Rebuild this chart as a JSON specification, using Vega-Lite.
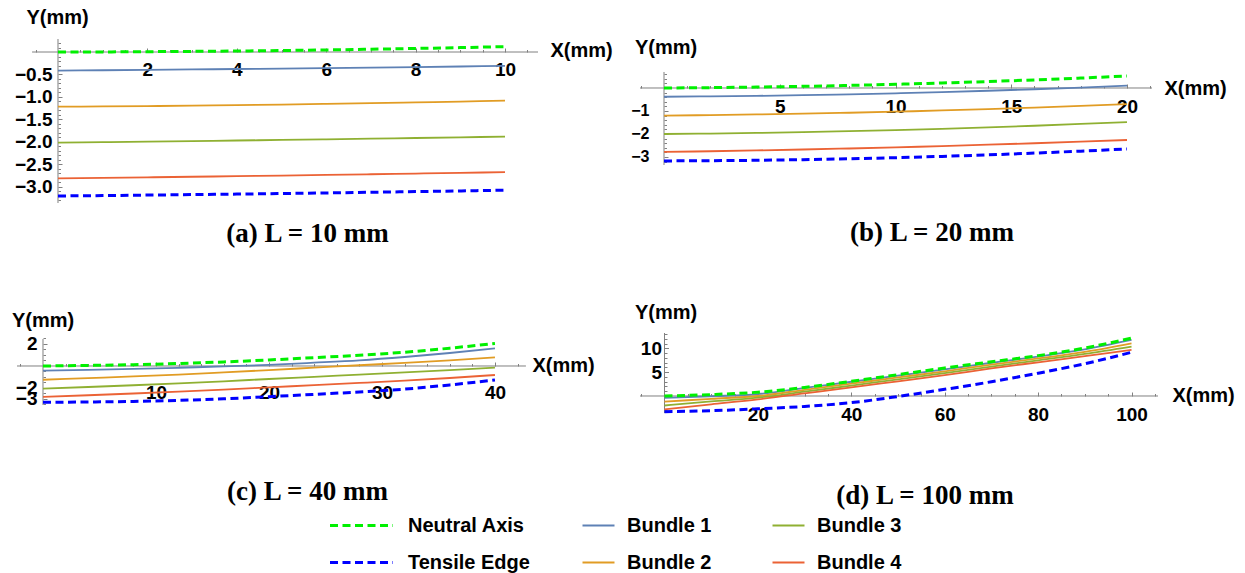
{
  "$schema": "https://vega.github.io/schema/vega-lite/v6.json",
  "padding": {"left": 11, "top": 7, "right": 0, "bottom": 0},
  "autosize": {"type": "pad"},
  "background": "white",
  "config": {
    "view": {"stroke": null},
    "axis": {"labelFont": "Liberation Sans", "labelFontWeight": "bold", "labelFontSize": 19, "labelColor": "#000000", "titleFont": "Liberation Sans", "titleFontWeight": "bold", "titleFontSize": 20, "titleColor": "#000000", "tickColor": "#808080", "domain": false, "grid": false, "labelFlush": false, "labelOverlap": false},
    "title": {"font": "Liberation Serif", "fontSize": 27, "fontWeight": "bold", "color": "#000000", "orient": "bottom", "anchor": "middle"},
    "legend": {"orient": "none", "legendX": 345, "legendY": 476.5, "columns": 3, "columnPadding": 48, "rowPadding": 17, "labelFont": "Liberation Sans", "labelFontSize": 20, "labelFontWeight": "bold", "labelColor": "#000000", "symbolSize": 1024, "symbolStrokeWidth": 2.2, "labelOffset": 26, "padding": 0, "gridAlign": "each", "labelLimit": 300}
  },
  "datasets": {
    "a": [
      {"s":"Neutral Axis","x":0,"y":0},{"s":"Neutral Axis","x":1,"y":0.002},{"s":"Neutral Axis","x":2,"y":0.007},{"s":"Neutral Axis","x":3,"y":0.014},{"s":"Neutral Axis","x":4,"y":0.022},{"s":"Neutral Axis","x":5,"y":0.033},{"s":"Neutral Axis","x":6,"y":0.046},{"s":"Neutral Axis","x":7,"y":0.062},{"s":"Neutral Axis","x":8,"y":0.079},{"s":"Neutral Axis","x":9,"y":0.098},{"s":"Neutral Axis","x":10,"y":0.12},
      {"s":"Bundle 1","x":0,"y":-0.415},{"s":"Bundle 1","x":1,"y":-0.406},{"s":"Bundle 1","x":2,"y":-0.397},{"s":"Bundle 1","x":3,"y":-0.388},{"s":"Bundle 1","x":4,"y":-0.378},{"s":"Bundle 1","x":5,"y":-0.368},{"s":"Bundle 1","x":6,"y":-0.357},{"s":"Bundle 1","x":7,"y":-0.346},{"s":"Bundle 1","x":8,"y":-0.334},{"s":"Bundle 1","x":9,"y":-0.322},{"s":"Bundle 1","x":10,"y":-0.31},
      {"s":"Bundle 2","x":0,"y":-1.215},{"s":"Bundle 2","x":1,"y":-1.209},{"s":"Bundle 2","x":2,"y":-1.202},{"s":"Bundle 2","x":3,"y":-1.192},{"s":"Bundle 2","x":4,"y":-1.181},{"s":"Bundle 2","x":5,"y":-1.169},{"s":"Bundle 2","x":6,"y":-1.154},{"s":"Bundle 2","x":7,"y":-1.138},{"s":"Bundle 2","x":8,"y":-1.121},{"s":"Bundle 2","x":9,"y":-1.101},{"s":"Bundle 2","x":10,"y":-1.08},
      {"s":"Bundle 3","x":0,"y":-2.015},{"s":"Bundle 3","x":1,"y":-2.004},{"s":"Bundle 3","x":2,"y":-1.992},{"s":"Bundle 3","x":3,"y":-1.98},{"s":"Bundle 3","x":4,"y":-1.967},{"s":"Bundle 3","x":5,"y":-1.954},{"s":"Bundle 3","x":6,"y":-1.94},{"s":"Bundle 3","x":7,"y":-1.926},{"s":"Bundle 3","x":8,"y":-1.911},{"s":"Bundle 3","x":9,"y":-1.896},{"s":"Bundle 3","x":10,"y":-1.88},
      {"s":"Bundle 4","x":0,"y":-2.81},{"s":"Bundle 4","x":1,"y":-2.798},{"s":"Bundle 4","x":2,"y":-2.786},{"s":"Bundle 4","x":3,"y":-2.773},{"s":"Bundle 4","x":4,"y":-2.76},{"s":"Bundle 4","x":5,"y":-2.746},{"s":"Bundle 4","x":6,"y":-2.732},{"s":"Bundle 4","x":7,"y":-2.717},{"s":"Bundle 4","x":8,"y":-2.702},{"s":"Bundle 4","x":9,"y":-2.686},{"s":"Bundle 4","x":10,"y":-2.67},
      {"s":"Tensile Edge","x":0,"y":-3.2},{"s":"Tensile Edge","x":1,"y":-3.191},{"s":"Tensile Edge","x":2,"y":-3.18},{"s":"Tensile Edge","x":3,"y":-3.169},{"s":"Tensile Edge","x":4,"y":-3.158},{"s":"Tensile Edge","x":5,"y":-3.145},{"s":"Tensile Edge","x":6,"y":-3.132},{"s":"Tensile Edge","x":7,"y":-3.117},{"s":"Tensile Edge","x":8,"y":-3.102},{"s":"Tensile Edge","x":9,"y":-3.087},{"s":"Tensile Edge","x":10,"y":-3.07}
    ],
    "b": [
      {"s":"Neutral Axis","x":0,"y":0},{"s":"Neutral Axis","x":2,"y":0.016},{"s":"Neutral Axis","x":4,"y":0.04},{"s":"Neutral Axis","x":6,"y":0.072},{"s":"Neutral Axis","x":8,"y":0.112},{"s":"Neutral Axis","x":10,"y":0.16},{"s":"Neutral Axis","x":12,"y":0.216},{"s":"Neutral Axis","x":14,"y":0.28},{"s":"Neutral Axis","x":16,"y":0.352},{"s":"Neutral Axis","x":18,"y":0.432},{"s":"Neutral Axis","x":20,"y":0.52},
      {"s":"Bundle 1","x":0,"y":-0.38},{"s":"Bundle 1","x":2,"y":-0.364},{"s":"Bundle 1","x":4,"y":-0.342},{"s":"Bundle 1","x":6,"y":-0.312},{"s":"Bundle 1","x":8,"y":-0.274},{"s":"Bundle 1","x":10,"y":-0.23},{"s":"Bundle 1","x":12,"y":-0.178},{"s":"Bundle 1","x":14,"y":-0.12},{"s":"Bundle 1","x":16,"y":-0.054},{"s":"Bundle 1","x":18,"y":0.02},{"s":"Bundle 1","x":20,"y":0.1},
      {"s":"Bundle 2","x":0,"y":-1.2},{"s":"Bundle 2","x":2,"y":-1.179},{"s":"Bundle 2","x":4,"y":-1.151},{"s":"Bundle 2","x":6,"y":-1.117},{"s":"Bundle 2","x":8,"y":-1.077},{"s":"Bundle 2","x":10,"y":-1.03},{"s":"Bundle 2","x":12,"y":-0.977},{"s":"Bundle 2","x":14,"y":-0.917},{"s":"Bundle 2","x":16,"y":-0.851},{"s":"Bundle 2","x":18,"y":-0.779},{"s":"Bundle 2","x":20,"y":-0.7},
      {"s":"Bundle 3","x":0,"y":-2.0},{"s":"Bundle 3","x":2,"y":-1.98},{"s":"Bundle 3","x":4,"y":-1.954},{"s":"Bundle 3","x":6,"y":-1.92},{"s":"Bundle 3","x":8,"y":-1.878},{"s":"Bundle 3","x":10,"y":-1.83},{"s":"Bundle 3","x":12,"y":-1.774},{"s":"Bundle 3","x":14,"y":-1.712},{"s":"Bundle 3","x":16,"y":-1.642},{"s":"Bundle 3","x":18,"y":-1.564},{"s":"Bundle 3","x":20,"y":-1.48},
      {"s":"Bundle 4","x":0,"y":-2.78},{"s":"Bundle 4","x":2,"y":-2.75},{"s":"Bundle 4","x":4,"y":-2.714},{"s":"Bundle 4","x":6,"y":-2.674},{"s":"Bundle 4","x":8,"y":-2.63},{"s":"Bundle 4","x":10,"y":-2.58},{"s":"Bundle 4","x":12,"y":-2.526},{"s":"Bundle 4","x":14,"y":-2.466},{"s":"Bundle 4","x":16,"y":-2.402},{"s":"Bundle 4","x":18,"y":-2.334},{"s":"Bundle 4","x":20,"y":-2.26},
      {"s":"Tensile Edge","x":0,"y":-3.17},{"s":"Tensile Edge","x":2,"y":-3.161},{"s":"Tensile Edge","x":4,"y":-3.143},{"s":"Tensile Edge","x":6,"y":-3.115},{"s":"Tensile Edge","x":8,"y":-3.077},{"s":"Tensile Edge","x":10,"y":-3.03},{"s":"Tensile Edge","x":12,"y":-2.973},{"s":"Tensile Edge","x":14,"y":-2.907},{"s":"Tensile Edge","x":16,"y":-2.831},{"s":"Tensile Edge","x":18,"y":-2.745},{"s":"Tensile Edge","x":20,"y":-2.65}
    ],
    "c": [
      {"s":"Neutral Axis","x":0,"y":0},{"s":"Neutral Axis","x":4,"y":0.05},{"s":"Neutral Axis","x":8,"y":0.12},{"s":"Neutral Axis","x":12,"y":0.23},{"s":"Neutral Axis","x":16,"y":0.37},{"s":"Neutral Axis","x":20,"y":0.55},{"s":"Neutral Axis","x":24,"y":0.76},{"s":"Neutral Axis","x":28,"y":0.98},{"s":"Neutral Axis","x":32,"y":1.25},{"s":"Neutral Axis","x":36,"y":1.62},{"s":"Neutral Axis","x":40,"y":2.05},
      {"s":"Bundle 1","x":0,"y":-0.42},{"s":"Bundle 1","x":4,"y":-0.36},{"s":"Bundle 1","x":8,"y":-0.27},{"s":"Bundle 1","x":12,"y":-0.16},{"s":"Bundle 1","x":16,"y":-0.04},{"s":"Bundle 1","x":20,"y":0.1},{"s":"Bundle 1","x":24,"y":0.3},{"s":"Bundle 1","x":28,"y":0.52},{"s":"Bundle 1","x":32,"y":0.82},{"s":"Bundle 1","x":36,"y":1.18},{"s":"Bundle 1","x":40,"y":1.6},
      {"s":"Bundle 2","x":0,"y":-1.25},{"s":"Bundle 2","x":4,"y":-1.1},{"s":"Bundle 2","x":8,"y":-0.95},{"s":"Bundle 2","x":12,"y":-0.78},{"s":"Bundle 2","x":16,"y":-0.58},{"s":"Bundle 2","x":20,"y":-0.37},{"s":"Bundle 2","x":24,"y":-0.15},{"s":"Bundle 2","x":28,"y":0.07},{"s":"Bundle 2","x":32,"y":0.28},{"s":"Bundle 2","x":36,"y":0.52},{"s":"Bundle 2","x":40,"y":0.79},
      {"s":"Bundle 3","x":0,"y":-2.05},{"s":"Bundle 3","x":4,"y":-1.91},{"s":"Bundle 3","x":8,"y":-1.75},{"s":"Bundle 3","x":12,"y":-1.58},{"s":"Bundle 3","x":16,"y":-1.39},{"s":"Bundle 3","x":20,"y":-1.18},{"s":"Bundle 3","x":24,"y":-0.98},{"s":"Bundle 3","x":28,"y":-0.78},{"s":"Bundle 3","x":32,"y":-0.58},{"s":"Bundle 3","x":36,"y":-0.37},{"s":"Bundle 3","x":40,"y":-0.15},
      {"s":"Bundle 4","x":0,"y":-2.8},{"s":"Bundle 4","x":4,"y":-2.66},{"s":"Bundle 4","x":8,"y":-2.5},{"s":"Bundle 4","x":12,"y":-2.33},{"s":"Bundle 4","x":16,"y":-2.14},{"s":"Bundle 4","x":20,"y":-1.94},{"s":"Bundle 4","x":24,"y":-1.74},{"s":"Bundle 4","x":28,"y":-1.54},{"s":"Bundle 4","x":32,"y":-1.33},{"s":"Bundle 4","x":36,"y":-1.09},{"s":"Bundle 4","x":40,"y":-0.82},
      {"s":"Tensile Edge","x":0,"y":-3.3},{"s":"Tensile Edge","x":4,"y":-3.27},{"s":"Tensile Edge","x":8,"y":-3.22},{"s":"Tensile Edge","x":12,"y":-3.13},{"s":"Tensile Edge","x":16,"y":-2.98},{"s":"Tensile Edge","x":20,"y":-2.79},{"s":"Tensile Edge","x":24,"y":-2.58},{"s":"Tensile Edge","x":28,"y":-2.36},{"s":"Tensile Edge","x":32,"y":-2.1},{"s":"Tensile Edge","x":36,"y":-1.72},{"s":"Tensile Edge","x":40,"y":-1.27}
    ],
    "d": [
      {"s":"Neutral Axis","x":0,"y":0},{"s":"Neutral Axis","x":10,"y":0.3},{"s":"Neutral Axis","x":20,"y":0.8},{"s":"Neutral Axis","x":30,"y":1.8},{"s":"Neutral Axis","x":40,"y":3.1},{"s":"Neutral Axis","x":50,"y":4.5},{"s":"Neutral Axis","x":60,"y":5.9},{"s":"Neutral Axis","x":70,"y":7.2},{"s":"Neutral Axis","x":80,"y":8.5},{"s":"Neutral Axis","x":90,"y":10.1},{"s":"Neutral Axis","x":100,"y":12.2},
      {"s":"Bundle 1","x":0,"y":-0.4},{"s":"Bundle 1","x":10,"y":-0.05},{"s":"Bundle 1","x":20,"y":0.4},{"s":"Bundle 1","x":30,"y":1.7},{"s":"Bundle 1","x":40,"y":3.0},{"s":"Bundle 1","x":50,"y":4.3},{"s":"Bundle 1","x":60,"y":5.6},{"s":"Bundle 1","x":70,"y":7.0},{"s":"Bundle 1","x":80,"y":8.3},{"s":"Bundle 1","x":90,"y":9.8},{"s":"Bundle 1","x":100,"y":11.8},
      {"s":"Bundle 2","x":0,"y":-1.2},{"s":"Bundle 2","x":10,"y":-0.6},{"s":"Bundle 2","x":20,"y":0.0},{"s":"Bundle 2","x":30,"y":1.3},{"s":"Bundle 2","x":40,"y":2.6},{"s":"Bundle 2","x":50,"y":3.9},{"s":"Bundle 2","x":60,"y":5.2},{"s":"Bundle 2","x":70,"y":6.6},{"s":"Bundle 2","x":80,"y":7.9},{"s":"Bundle 2","x":90,"y":9.3},{"s":"Bundle 2","x":100,"y":11.1},
      {"s":"Bundle 3","x":0,"y":-2.0},{"s":"Bundle 3","x":10,"y":-1.15},{"s":"Bundle 3","x":20,"y":-0.35},{"s":"Bundle 3","x":30,"y":0.9},{"s":"Bundle 3","x":40,"y":2.2},{"s":"Bundle 3","x":50,"y":3.5},{"s":"Bundle 3","x":60,"y":4.8},{"s":"Bundle 3","x":70,"y":6.2},{"s":"Bundle 3","x":80,"y":7.5},{"s":"Bundle 3","x":90,"y":8.85},{"s":"Bundle 3","x":100,"y":10.4},
      {"s":"Bundle 4","x":0,"y":-2.8},{"s":"Bundle 4","x":10,"y":-1.75},{"s":"Bundle 4","x":20,"y":-0.7},{"s":"Bundle 4","x":30,"y":0.55},{"s":"Bundle 4","x":40,"y":1.8},{"s":"Bundle 4","x":50,"y":3.1},{"s":"Bundle 4","x":60,"y":4.4},{"s":"Bundle 4","x":70,"y":5.8},{"s":"Bundle 4","x":80,"y":7.1},{"s":"Bundle 4","x":90,"y":8.4},{"s":"Bundle 4","x":100,"y":9.7},
      {"s":"Tensile Edge","x":0,"y":-3.3},{"s":"Tensile Edge","x":10,"y":-3.1},{"s":"Tensile Edge","x":20,"y":-2.7},{"s":"Tensile Edge","x":30,"y":-2.2},{"s":"Tensile Edge","x":40,"y":-1.4},{"s":"Tensile Edge","x":50,"y":-0.1},{"s":"Tensile Edge","x":60,"y":1.4},{"s":"Tensile Edge","x":70,"y":3.0},{"s":"Tensile Edge","x":80,"y":4.8},{"s":"Tensile Edge","x":90,"y":6.8},{"s":"Tensile Edge","x":100,"y":9.2}
    ]
  },
  "bounds": "flush",
  "columns": 2,
  "spacing": {"row": 130, "column": 102},
  "concat": [
    {
      "width": 521, "height": 164,
      "title": {"text": "(a) L = 10 mm", "dx": 30, "offset": 30, "frame": "group", "baseline": "middle"},
      "data": {"name": "a"},
      "resolve": {"axis": {"x": "independent", "y": "independent"}},
      "layer": [
        {"data": {"values": [{}]}, "mark": {"type": "rule", "color": "#808080", "strokeWidth": 1},
         "encoding": {"x": {"datum": -0.58, "axis": null}, "x2": {"datum": 10.738}, "y": {"datum": 0, "axis": null}}},
        {"data": {"values": [{}]}, "mark": {"type": "rule", "color": "#808080", "strokeWidth": 1},
         "encoding": {"y": {"datum": 0.289, "axis": null}, "y2": {"datum": -3.356}, "x": {"datum": 0, "axis": null}}},
        {"transform": [{"filter": "datum.s != 'Neutral Axis' && datum.s != 'Tensile Edge'"}],
         "mark": {"type": "line", "strokeWidth": 1.8, "interpolate": "monotone"},
         "encoding": {
           "x": {"field": "x", "type": "quantitative", "scale": {"domain": [-0.917, 10.738], "nice": false, "zero": false},
                 "axis": {"orient": "bottom", "offset": -151, "values": [2,4,6,8,10], "tickSize": -4, "labelPadding": 12, "title": "X(mm)", "titleX": 533, "titleY": -2, "titleAlign": "left", "titleBaseline": "middle", "titleAngle": 0}},
           "y": {"field": "y", "type": "quantitative", "scale": {"domain": [-3.356, 0.289], "nice": false, "zero": false},
                 "axis": {"orient": "left", "offset": -41, "values": [-3,-2.5,-2,-1.5,-1,-0.5], "format": ".1f", "tickSize": -4, "labelPadding": 10, "title": "Y(mm)", "titleX": -1, "titleY": -22, "titleAlign": "center", "titleBaseline": "middle", "titleAngle": 0}},
           "color": {"field": "s", "type": "nominal",
                     "scale": {"domain": ["Neutral Axis","Tensile Edge","Bundle 1","Bundle 2","Bundle 3","Bundle 4"], "range": ["#00f000","#0000ff","#5e81b5","#e19c24","#8fb032","#eb6235"]},
                     "legend": {"title": null, "encode": {
                       "symbols": {"update": {
                         "size": {"signal": "(datum.value == 'Neutral Axis' || datum.value == 'Tensile Edge') ? 3969 : 1024"},
                         "strokeDash": {"signal": "(datum.value == 'Neutral Axis' || datum.value == 'Tensile Edge') ? [8,4.5] : [1,0]"},
                         "strokeWidth": {"signal": "(datum.value == 'Neutral Axis' || datum.value == 'Tensile Edge') ? 3 : 2.2"},
                         "x": {"signal": "(datum.value == 'Neutral Axis' || datum.value == 'Tensile Edge') ? -0.5 : ((datum.value == 'Bundle 3' || datum.value == 'Bundle 4') ? 28.5 : 17.5)"}}},
                       "labels": {"update": {"x": {"signal": "(datum.value == 'Bundle 3' || datum.value == 'Bundle 4') ? 57 : 46"}}}}}}
         }},
        {"transform": [{"filter": "datum.s == 'Neutral Axis' || datum.s == 'Tensile Edge'"}],
         "mark": {"type": "line", "strokeWidth": 3, "strokeDash": [8,4.5], "interpolate": "monotone"},
         "encoding": {
           "x": {"field": "x", "type": "quantitative", "axis": {"orient": "bottom", "offset": -151, "values": [-0.5,0.5,1,1.5,2.5,3,3.5,4.5,5,5.5,6.5,7,7.5,8.5,9,9.5,10.5], "tickSize": -2.5, "labels": false, "title": null}},
           "y": {"field": "y", "type": "quantitative", "axis": {"orient": "left", "offset": -41, "values": [-3.3,-3.2,-3.1,-2.9,-2.8,-2.7,-2.6,-2.4,-2.3,-2.2,-2.1,-1.9,-1.8,-1.7,-1.6,-1.4,-1.3,-1.2,-1.1,-0.9,-0.8,-0.7,-0.6,-0.4,-0.3,-0.2,-0.1,0.1,0.2], "tickSize": -2.5, "labels": false, "title": null}},
           "color": {"field": "s", "type": "nominal",
                     "scale": {"domain": ["Neutral Axis","Tensile Edge","Bundle 1","Bundle 2","Bundle 3","Bundle 4"], "range": ["#00f000","#0000ff","#5e81b5","#e19c24","#8fb032","#eb6235"]},
                     "legend": {"title": null, "encode": {
                       "symbols": {"update": {
                         "size": {"signal": "(datum.value == 'Neutral Axis' || datum.value == 'Tensile Edge') ? 3969 : 1024"},
                         "strokeDash": {"signal": "(datum.value == 'Neutral Axis' || datum.value == 'Tensile Edge') ? [8,4.5] : [1,0]"},
                         "strokeWidth": {"signal": "(datum.value == 'Neutral Axis' || datum.value == 'Tensile Edge') ? 3 : 2.2"},
                         "x": {"signal": "(datum.value == 'Neutral Axis' || datum.value == 'Tensile Edge') ? -0.5 : ((datum.value == 'Bundle 3' || datum.value == 'Bundle 4') ? 28.5 : 17.5)"}}},
                       "labels": {"update": {"x": {"signal": "(datum.value == 'Bundle 3' || datum.value == 'Bundle 4') ? 57 : 46"}}}}}}
         }}
      ]
    },
    {
      "width": 518, "height": 164,
      "title": {"text": "(b) L = 20 mm", "dx": 33, "offset": 30, "frame": "group", "baseline": "middle"},
      "data": {"name": "b"},
      "resolve": {"axis": {"x": "independent", "y": "independent"}},
      "layer": [
        {"data": {"values": [{}]}, "mark": {"type": "rule", "color": "#808080", "strokeWidth": 1},
         "encoding": {"x": {"datum": -1.037, "axis": null}, "x2": {"datum": 21.08}, "y": {"datum": 0, "axis": null}}},
        {"data": {"values": [{}]}, "mark": {"type": "rule", "color": "#808080", "strokeWidth": 1},
         "encoding": {"y": {"datum": 0.696, "axis": null}, "y2": {"datum": -3.348}, "x": {"datum": 0, "axis": null}}},
        {"transform": [{"filter": "datum.s != 'Neutral Axis' && datum.s != 'Tensile Edge'"}],
         "mark": {"type": "line", "strokeWidth": 1.8, "interpolate": "monotone"},
         "encoding": {
           "x": {"field": "x", "type": "quantitative", "scale": {"domain": [-1.037, 21.339], "nice": false, "zero": false},
                 "axis": {"orient": "bottom", "offset": -115, "values": [5,10,15,20], "tickSize": -4, "labelPadding": 13, "title": "X(mm)", "titleX": 524, "titleY": 0, "titleAlign": "left", "titleBaseline": "middle", "titleAngle": 0}},
           "y": {"field": "y", "type": "quantitative", "scale": {"domain": [-5.0, 2.13], "nice": false, "zero": false},
                 "axis": {"orient": "left", "offset": -24, "values": [-3,-2,-1], "format": "d", "labelFontSize": 16, "tickSize": -4, "labelPadding": 19, "title": "Y(mm)", "titleX": 1.5, "titleY": 8, "titleAlign": "center", "titleBaseline": "middle", "titleAngle": 0}},
           "color": {"field": "s", "type": "nominal",
                     "scale": {"domain": ["Neutral Axis","Tensile Edge","Bundle 1","Bundle 2","Bundle 3","Bundle 4"], "range": ["#00f000","#0000ff","#5e81b5","#e19c24","#8fb032","#eb6235"]},
                     "legend": {"title": null, "encode": {
                       "symbols": {"update": {
                         "size": {"signal": "(datum.value == 'Neutral Axis' || datum.value == 'Tensile Edge') ? 3969 : 1024"},
                         "strokeDash": {"signal": "(datum.value == 'Neutral Axis' || datum.value == 'Tensile Edge') ? [8,4.5] : [1,0]"},
                         "strokeWidth": {"signal": "(datum.value == 'Neutral Axis' || datum.value == 'Tensile Edge') ? 3 : 2.2"},
                         "x": {"signal": "(datum.value == 'Neutral Axis' || datum.value == 'Tensile Edge') ? -0.5 : ((datum.value == 'Bundle 3' || datum.value == 'Bundle 4') ? 28.5 : 17.5)"}}},
                       "labels": {"update": {"x": {"signal": "(datum.value == 'Bundle 3' || datum.value == 'Bundle 4') ? 57 : 46"}}}}}}
         }},
        {"transform": [{"filter": "datum.s == 'Neutral Axis' || datum.s == 'Tensile Edge'"}],
         "mark": {"type": "line", "strokeWidth": 3, "strokeDash": [8,4.5], "interpolate": "monotone"},
         "encoding": {
           "x": {"field": "x", "type": "quantitative", "axis": {"orient": "bottom", "offset": -115, "values": [-1,1,2,3,4,6,7,8,9,11,12,13,14,16,17,18,19,21], "tickSize": -2.5, "labels": false, "title": null}},
           "y": {"field": "y", "type": "quantitative", "axis": {"orient": "left", "offset": -24, "values": [-3.2,-2.8,-2.6,-2.4,-2.2,-1.8,-1.6,-1.4,-1.2,-0.8,-0.6,-0.4,-0.2,0.2,0.4,0.6], "tickSize": -2.5, "labels": false, "title": null}},
           "color": {"field": "s", "type": "nominal",
                     "scale": {"domain": ["Neutral Axis","Tensile Edge","Bundle 1","Bundle 2","Bundle 3","Bundle 4"], "range": ["#00f000","#0000ff","#5e81b5","#e19c24","#8fb032","#eb6235"]},
                     "legend": {"title": null, "encode": {
                       "symbols": {"update": {
                         "size": {"signal": "(datum.value == 'Neutral Axis' || datum.value == 'Tensile Edge') ? 3969 : 1024"},
                         "strokeDash": {"signal": "(datum.value == 'Neutral Axis' || datum.value == 'Tensile Edge') ? [8,4.5] : [1,0]"},
                         "strokeWidth": {"signal": "(datum.value == 'Neutral Axis' || datum.value == 'Tensile Edge') ? 3 : 2.2"},
                         "x": {"signal": "(datum.value == 'Neutral Axis' || datum.value == 'Tensile Edge') ? -0.5 : ((datum.value == 'Bundle 3' || datum.value == 'Bundle 4') ? 28.5 : 17.5)"}}},
                       "labels": {"update": {"x": {"signal": "(datum.value == 'Bundle 3' || datum.value == 'Bundle 4') ? 57 : 46"}}}}}}
         }}
      ]
    },
    {
      "width": 521, "height": 80,
      "title": {"text": "(c) L = 40 mm", "dx": 30, "offset": 79, "frame": "group", "baseline": "middle"},
      "data": {"name": "c"},
      "resolve": {"axis": {"x": "independent", "y": "independent"}},
      "layer": [
        {"data": {"values": [{}]}, "mark": {"type": "rule", "color": "#808080", "strokeWidth": 1},
         "encoding": {"x": {"datum": -2.301, "axis": null}, "x2": {"datum": 42.74}, "y": {"datum": 0, "axis": null}}},
        {"data": {"values": [{}]}, "mark": {"type": "rule", "color": "#808080", "strokeWidth": 1},
         "encoding": {"y": {"datum": 2.455, "axis": null}, "y2": {"datum": -3.545}, "x": {"datum": 0, "axis": null}}},
        {"transform": [{"filter": "datum.s != 'Neutral Axis' && datum.s != 'Tensile Edge'"}],
         "mark": {"type": "line", "strokeWidth": 1.8, "interpolate": "monotone"},
         "encoding": {
           "x": {"field": "x", "type": "quantitative", "scale": {"domain": [-2.301, 43.81], "nice": false, "zero": false},
                 "axis": {"orient": "bottom", "offset": -47, "values": [10,20,30,40], "tickSize": -4, "labelPadding": 21, "title": "X(mm)", "titleX": 515, "titleY": -1, "titleAlign": "left", "titleBaseline": "middle", "titleAngle": 0}},
           "y": {"field": "y", "type": "quantitative", "scale": {"domain": [-4.273, 3.0], "nice": false, "zero": false},
                 "axis": {"orient": "left", "offset": -26, "values": [-3,-2,2], "format": "d", "tickSize": -4, "labelPadding": 10, "title": "Y(mm)", "titleX": -0.5, "titleY": -13, "titleAlign": "center", "titleBaseline": "middle", "titleAngle": 0}},
           "color": {"field": "s", "type": "nominal",
                     "scale": {"domain": ["Neutral Axis","Tensile Edge","Bundle 1","Bundle 2","Bundle 3","Bundle 4"], "range": ["#00f000","#0000ff","#5e81b5","#e19c24","#8fb032","#eb6235"]},
                     "legend": {"title": null, "encode": {
                       "symbols": {"update": {
                         "size": {"signal": "(datum.value == 'Neutral Axis' || datum.value == 'Tensile Edge') ? 3969 : 1024"},
                         "strokeDash": {"signal": "(datum.value == 'Neutral Axis' || datum.value == 'Tensile Edge') ? [8,4.5] : [1,0]"},
                         "strokeWidth": {"signal": "(datum.value == 'Neutral Axis' || datum.value == 'Tensile Edge') ? 3 : 2.2"},
                         "x": {"signal": "(datum.value == 'Neutral Axis' || datum.value == 'Tensile Edge') ? -0.5 : ((datum.value == 'Bundle 3' || datum.value == 'Bundle 4') ? 28.5 : 17.5)"}}},
                       "labels": {"update": {"x": {"signal": "(datum.value == 'Bundle 3' || datum.value == 'Bundle 4') ? 57 : 46"}}}}}}
         }},
        {"transform": [{"filter": "datum.s == 'Neutral Axis' || datum.s == 'Tensile Edge'"}],
         "mark": {"type": "line", "strokeWidth": 3, "strokeDash": [8,4.5], "interpolate": "monotone"},
         "encoding": {
           "x": {"field": "x", "type": "quantitative", "axis": {"orient": "bottom", "offset": -47, "values": [-2,2,4,6,8,12,14,16,18,22,24,26,28,32,34,36,38,42], "tickSize": -2.5, "labels": false, "title": null}},
           "y": {"field": "y", "type": "quantitative", "axis": {"orient": "left", "offset": -26, "values": [-3.5,-2.5,-1.5,-1,-0.5,0.5,1,1.5,2.5], "tickSize": -2.5, "labels": false, "title": null}},
           "color": {"field": "s", "type": "nominal",
                     "scale": {"domain": ["Neutral Axis","Tensile Edge","Bundle 1","Bundle 2","Bundle 3","Bundle 4"], "range": ["#00f000","#0000ff","#5e81b5","#e19c24","#8fb032","#eb6235"]},
                     "legend": {"title": null, "encode": {
                       "symbols": {"update": {
                         "size": {"signal": "(datum.value == 'Neutral Axis' || datum.value == 'Tensile Edge') ? 3969 : 1024"},
                         "strokeDash": {"signal": "(datum.value == 'Neutral Axis' || datum.value == 'Tensile Edge') ? [8,4.5] : [1,0]"},
                         "strokeWidth": {"signal": "(datum.value == 'Neutral Axis' || datum.value == 'Tensile Edge') ? 3 : 2.2"},
                         "x": {"signal": "(datum.value == 'Neutral Axis' || datum.value == 'Tensile Edge') ? -0.5 : ((datum.value == 'Bundle 3' || datum.value == 'Bundle 4') ? 28.5 : 17.5)"}}},
                       "labels": {"update": {"x": {"signal": "(datum.value == 'Bundle 3' || datum.value == 'Bundle 4') ? 57 : 46"}}}}}}
         }}
      ]
    },
    {
      "width": 518, "height": 80,
      "title": {"text": "(d) L = 100 mm", "dx": 26, "offset": 72, "frame": "group", "baseline": "middle"},
      "data": {"name": "d"},
      "resolve": {"axis": {"x": "independent", "y": "independent"}},
      "layer": [
        {"data": {"values": [{}]}, "mark": {"type": "rule", "color": "#808080", "strokeWidth": 1},
         "encoding": {"x": {"datum": -5.246, "axis": null}, "x2": {"datum": 105.67}, "y": {"datum": 0, "axis": null}}},
        {"data": {"values": [{}]}, "mark": {"type": "rule", "color": "#808080", "strokeWidth": 1},
         "encoding": {"y": {"datum": 13.263, "axis": null}, "y2": {"datum": -3.579}, "x": {"datum": 0, "axis": null}}},
        {"transform": [{"filter": "datum.s != 'Neutral Axis' && datum.s != 'Tensile Edge'"}],
         "mark": {"type": "line", "strokeWidth": 1.8, "interpolate": "monotone"},
         "encoding": {
           "x": {"field": "x", "type": "quantitative", "scale": {"domain": [-5.246, 105.67], "nice": false, "zero": false},
                 "axis": {"orient": "bottom", "offset": -17, "values": [20,40,60,80,100], "tickSize": -4, "labelPadding": 13, "title": "X(mm)", "titleX": 532, "titleY": -1, "titleAlign": "left", "titleBaseline": "middle", "titleAngle": 0}},
           "y": {"field": "y", "type": "quantitative", "scale": {"domain": [-3.579, 13.263], "nice": false, "zero": false},
                 "axis": {"orient": "left", "offset": -24.5, "values": [5,10], "format": "d", "tickSize": -4, "labelPadding": 7, "title": "Y(mm)", "titleX": 1, "titleY": -21, "titleAlign": "center", "titleBaseline": "middle", "titleAngle": 0}},
           "color": {"field": "s", "type": "nominal",
                     "scale": {"domain": ["Neutral Axis","Tensile Edge","Bundle 1","Bundle 2","Bundle 3","Bundle 4"], "range": ["#00f000","#0000ff","#5e81b5","#e19c24","#8fb032","#eb6235"]},
                     "legend": {"title": null, "encode": {
                       "symbols": {"update": {
                         "size": {"signal": "(datum.value == 'Neutral Axis' || datum.value == 'Tensile Edge') ? 3969 : 1024"},
                         "strokeDash": {"signal": "(datum.value == 'Neutral Axis' || datum.value == 'Tensile Edge') ? [8,4.5] : [1,0]"},
                         "strokeWidth": {"signal": "(datum.value == 'Neutral Axis' || datum.value == 'Tensile Edge') ? 3 : 2.2"},
                         "x": {"signal": "(datum.value == 'Neutral Axis' || datum.value == 'Tensile Edge') ? -0.5 : ((datum.value == 'Bundle 3' || datum.value == 'Bundle 4') ? 28.5 : 17.5)"}}},
                       "labels": {"update": {"x": {"signal": "(datum.value == 'Bundle 3' || datum.value == 'Bundle 4') ? 57 : 46"}}}}}}
         }},
        {"transform": [{"filter": "datum.s == 'Neutral Axis' || datum.s == 'Tensile Edge'"}],
         "mark": {"type": "line", "strokeWidth": 3, "strokeDash": [8,4.5], "interpolate": "monotone"},
         "encoding": {
           "x": {"field": "x", "type": "quantitative", "axis": {"orient": "bottom", "offset": -17, "values": [-5,5,10,15,25,30,35,45,50,55,65,70,75,85,90,95,105], "tickSize": -2.5, "labels": false, "title": null}},
           "y": {"field": "y", "type": "quantitative", "axis": {"orient": "left", "offset": -24.5, "values": [-3,-2,-1,1,2,3,4,6,7,8,9,11,12,13], "tickSize": -2.5, "labels": false, "title": null}},
           "color": {"field": "s", "type": "nominal",
                     "scale": {"domain": ["Neutral Axis","Tensile Edge","Bundle 1","Bundle 2","Bundle 3","Bundle 4"], "range": ["#00f000","#0000ff","#5e81b5","#e19c24","#8fb032","#eb6235"]},
                     "legend": {"title": null, "encode": {
                       "symbols": {"update": {
                         "size": {"signal": "(datum.value == 'Neutral Axis' || datum.value == 'Tensile Edge') ? 3969 : 1024"},
                         "strokeDash": {"signal": "(datum.value == 'Neutral Axis' || datum.value == 'Tensile Edge') ? [8,4.5] : [1,0]"},
                         "strokeWidth": {"signal": "(datum.value == 'Neutral Axis' || datum.value == 'Tensile Edge') ? 3 : 2.2"},
                         "x": {"signal": "(datum.value == 'Neutral Axis' || datum.value == 'Tensile Edge') ? -0.5 : ((datum.value == 'Bundle 3' || datum.value == 'Bundle 4') ? 28.5 : 17.5)"}}},
                       "labels": {"update": {"x": {"signal": "(datum.value == 'Bundle 3' || datum.value == 'Bundle 4') ? 57 : 46"}}}}}}
         }}
      ]
    }
  ]
}
